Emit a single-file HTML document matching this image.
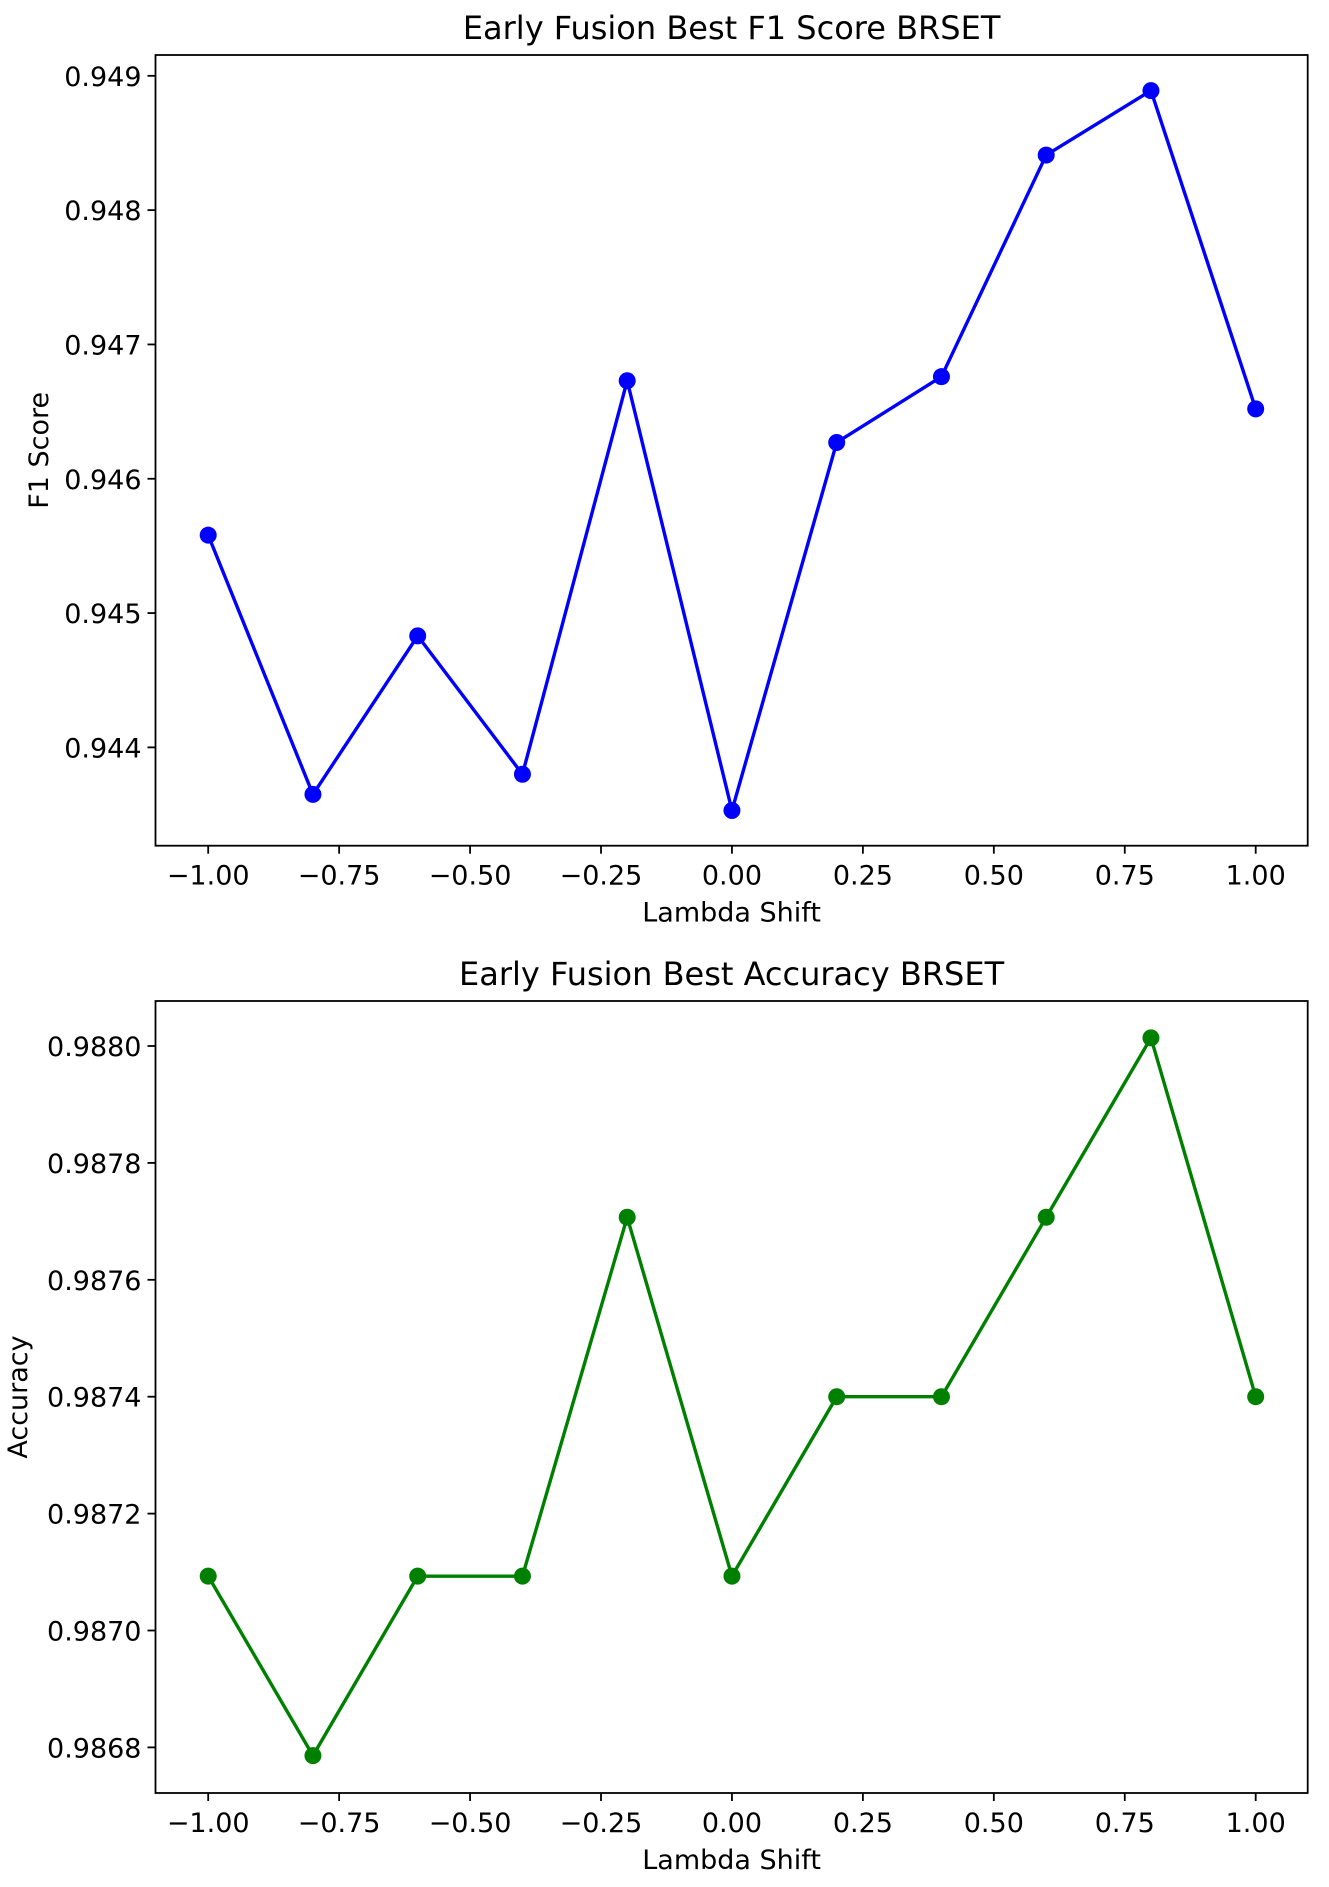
<!DOCTYPE html>
<html><head><meta charset="utf-8"><style>html,body{margin:0;padding:0;background:#fff}svg{display:block}text{font-family:"DejaVu Sans","Liberation Sans",sans-serif;fill:#000}</style></head>
<body>
<svg id="chart" width="1329" height="1887" viewBox="0 0 1329 1887" xmlns="http://www.w3.org/2000/svg"></svg>
<script>
const xValues = [-1.0, -0.8, -0.6, -0.4, -0.2, 0.0, 0.2, 0.4, 0.6, 0.8, 1.0];
const f1Values = [0.94558, 0.94365, 0.94483, 0.94380, 0.94673, 0.94353, 0.94627, 0.94676, 0.94841, 0.94889, 0.94652];
const accValues = [0.987093, 0.986786, 0.987093, 0.987093, 0.987707, 0.987093, 0.987400, 0.987400, 0.987707, 0.988014, 0.987400];
const xTicks = [-1.0, -0.75, -0.5, -0.25, 0.0, 0.25, 0.5, 0.75, 1.0];
const xTickLabels = ["\u22121.00","\u22120.75","\u22120.50","\u22120.25","0.00","0.25","0.50","0.75","1.00"];
const f1Ticks = [0.944, 0.945, 0.946, 0.947, 0.948, 0.949];
const f1TickLabels = ["0.944","0.945","0.946","0.947","0.948","0.949"];
const accTicks = [0.9868, 0.9870, 0.9872, 0.9874, 0.9876, 0.9878, 0.9880];
const accTickLabels = ["0.9868","0.9870","0.9872","0.9874","0.9876","0.9878","0.9880"];

const NS = "http://www.w3.org/2000/svg";
const svg = document.getElementById('chart');
function mk(tag, attrs, parent) {
  const e = document.createElementNS(NS, tag);
  for (const k in attrs) e.setAttribute(k, attrs[k]);
  (parent || svg).appendChild(e);
  return e;
}
function panel(cfg) {
  const g = mk('g', {});
  
  
  const L = 155.5, R = 1307.7, T = cfg.top, B = cfg.bottom;
  const xs = v => 208.2 + (v + 1) / 2 * (1255.7 - 208.2);
  const ys = v => B - (v - cfg.ymin) / (cfg.ymax - cfg.ymin) * (B - T);
  xTicks.forEach((t, i) => {
    const x = xs(t);
    const tk = mk('line', {x1: x, x2: x, y1: B, y2: B + 8, stroke: '#000', 'stroke-width': 1.8}, g);
    
    
    const lb = mk('text', {x: x, y: B + 39, 'font-size': 27, 'text-anchor': 'middle'}, g);
    
    
    lb.textContent = xTickLabels[i];
  });
  cfg.ticks.forEach((t, i) => {
    const y = ys(t);
    const tk = mk('line', {x1: L - 8, x2: L, y1: y, y2: y, stroke: '#000', 'stroke-width': 1.8}, g);
    
    
    const lb = mk('text', {x: L - 14, y: y + 10, 'font-size': 27, 'text-anchor': 'end'}, g);
    
    
    lb.textContent = cfg.labels[i];
  });
  const pts = xValues.map((x, i) => xs(x) + ',' + ys(cfg.values[i])).join(' ');
  const pl = mk('polyline', {points: pts, fill: 'none', stroke: cfg.color, 'stroke-width': 3.4, 'stroke-linejoin': 'round'}, g);
  
  
  xValues.forEach((x, i) => {
    const c = mk('circle', {cx: xs(x), cy: ys(cfg.values[i]), r: 8.5, fill: cfg.color}, g);
    
    
  });
  const fr = mk('rect', {x: L, y: T, width: R - L, height: B - T, fill: 'none', stroke: '#000', 'stroke-width': 1.8}, g);
  
  
  const ti = mk('text', {x: (L + R) / 2, y: T - 16, 'font-size': 32, 'text-anchor': 'middle'}, g);
  
  
  ti.textContent = cfg.title;
  const xl = mk('text', {x: (L + R) / 2, y: B + 76, 'font-size': 27, 'text-anchor': 'middle'}, g);
  
  
  xl.textContent = 'Lambda Shift';
  const yl = mk('text', {x: 0, y: 0, 'font-size': 27, 'text-anchor': 'middle', transform: 'translate(' + cfg.ylx + ',' + (T + B) / 2 + ') rotate(-90)'}, g);
  
  
  yl.textContent = cfg.ylabel;
}
panel({name: 'f1-chart', top: 55, bottom: 845.7, ymin: 0.943268, ymax: 0.949155, values: f1Values, ticks: f1Ticks, labels: f1TickLabels, color: '#0000ff', title: 'Early Fusion Best F1 Score BRSET', ylabel: 'F1 Score', ylx: 48});
panel({name: 'accuracy-chart', top: 1001, bottom: 1793, ymin: 0.986722, ymax: 0.988077, values: accValues, ticks: accTicks, labels: accTickLabels, color: '#008000', title: 'Early Fusion Best Accuracy BRSET', ylabel: 'Accuracy', ylx: 27});
</script>
</body></html>
